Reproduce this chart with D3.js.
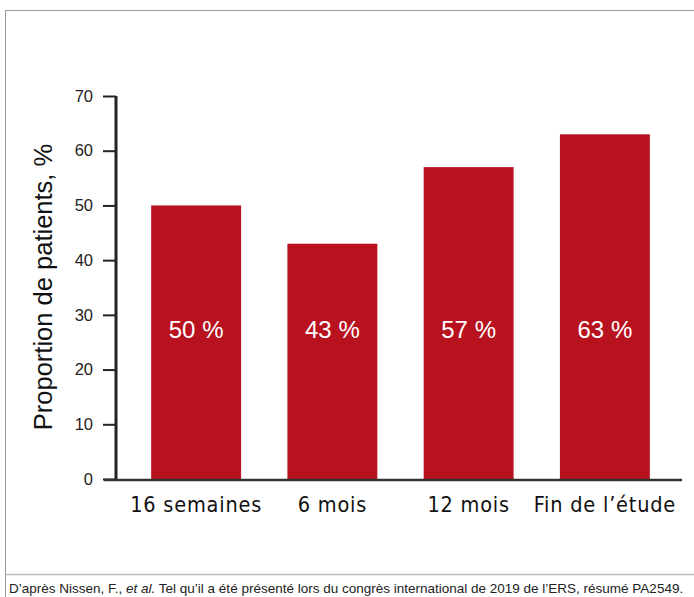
<!DOCTYPE html>
<html>
<head>
<meta charset="utf-8">
<script src="https://cdn.jsdelivr.net/npm/d3@7"></script>
<style>
  body { margin: 0; background: #fff; }
  svg { display: block; }
</style>
</head>
<body>
<svg id="chart" width="694" height="597"></svg>
<script>
// données
var categories = ['16 semaines', '6 mois', '12 mois', 'Fin de l\u2019étude'];
var values = [50, 43, 57, 63];
var valueLabels = ['50 %', '43 %', '57 %', '63 %'];
var yTicks = [0, 10, 20, 30, 40, 50, 60, 70];

var svg = d3.select('#chart');

// cadre
svg.append('path')
    .attr('d', 'M694,10.5 H5.5 V597')
    .attr('fill', 'none')
    .attr('stroke', '#999')
    .attr('stroke-width', 1);
svg.append('line')
    .attr('x1', 5).attr('x2', 694)
    .attr('y1', 574.5).attr('y2', 574.5)
    .attr('stroke', '#bbb').attr('stroke-width', 1.5);

var y = d3.scaleLinear().domain([0, 70]).range([479, 96]);
var x = d3.scaleBand().domain(categories).range([128, 673]).paddingInner(0.34).paddingOuter(0.17);

// barres
svg.selectAll('rect.bar')
    .data(values)
    .enter().append('rect')
    .attr('class', 'bar')
    .attr('x', function(d, i){ return x(categories[i]); })
    .attr('width', x.bandwidth())
    .attr('y', function(d){ return y(d); })
    .attr('height', function(d){ return y(0) - y(d); })
    .attr('fill', '#b8121f');

// étiquettes de valeur
svg.selectAll('text.val')
    .data(valueLabels)
    .enter().append('text')
    .attr('class', 'val')
    .attr('x', function(d, i){ return x(categories[i]) + x.bandwidth() / 2; })
    .attr('y', 338)
    .attr('text-anchor', 'middle')
    .attr('fill', '#fff')
    .style('font-family', '"Liberation Sans", Arial, sans-serif')
    .style('font-size', '24px')
    .text(function(d){ return d; });

// axe Y
var yAxis = d3.axisLeft(y).tickValues(yTicks).tickSize(13).tickPadding(10);
var gy = svg.append('g')
    .attr('transform', 'translate(116,0)')
    .call(yAxis);
gy.select('.domain').attr('stroke', '#222').attr('stroke-width', 3).attr('d', 'M0,' + y(70) + 'V' + (y(0) + 1));
gy.selectAll('.tick line').attr('stroke', '#222').attr('stroke-width', 2);
gy.selectAll('.tick text')
    .attr('fill', '#222')
    .style('font-family', '"Liberation Sans", Arial, sans-serif')
    .style('font-size', '16.5px');

// axe X
svg.append('line')
    .attr('x1', 104).attr('x2', 682)
    .attr('y1', y(0) + 1).attr('y2', y(0) + 1)
    .attr('stroke', '#333').attr('stroke-width', 2.5);

svg.selectAll('text.cat')
    .data(categories)
    .enter().append('text')
    .attr('class', 'cat')
    .attr('x', function(d){ return x(d) + x.bandwidth() / 2; })
    .attr('y', 512)
    .attr('text-anchor', 'middle')
    .attr('fill', '#111')
    .style('font-family', '"DejaVu Sans Condensed", "DejaVu Sans", sans-serif')
    .style('font-size', '21.5px')
    .style('letter-spacing', '0.8px')
    .text(function(d){ return d; });

// titre de l'axe Y
svg.append('text')
    .attr('transform', 'translate(52,287) rotate(-90)')
    .attr('text-anchor', 'middle')
    .attr('fill', '#111')
    .style('font-family', '"Liberation Sans", Arial, sans-serif')
    .style('font-size', '25.5px')
    .text('Proportion de patients, %');

// source
var src = svg.append('text')
    .attr('x', 9).attr('y', 593)
    .attr('fill', '#222')
    .style('font-family', '"Liberation Sans", Arial, sans-serif')
    .style('font-size', '13.5px');
src.append('tspan').text('D\u2019après Nissen, F., ');
src.append('tspan').style('font-style', 'italic').text('et al.');
src.append('tspan').text(' Tel qu\u2019il a été présenté lors du congrès international de 2019 de l\u2019ERS, résumé PA2549.');
</script>
</body>
</html>
